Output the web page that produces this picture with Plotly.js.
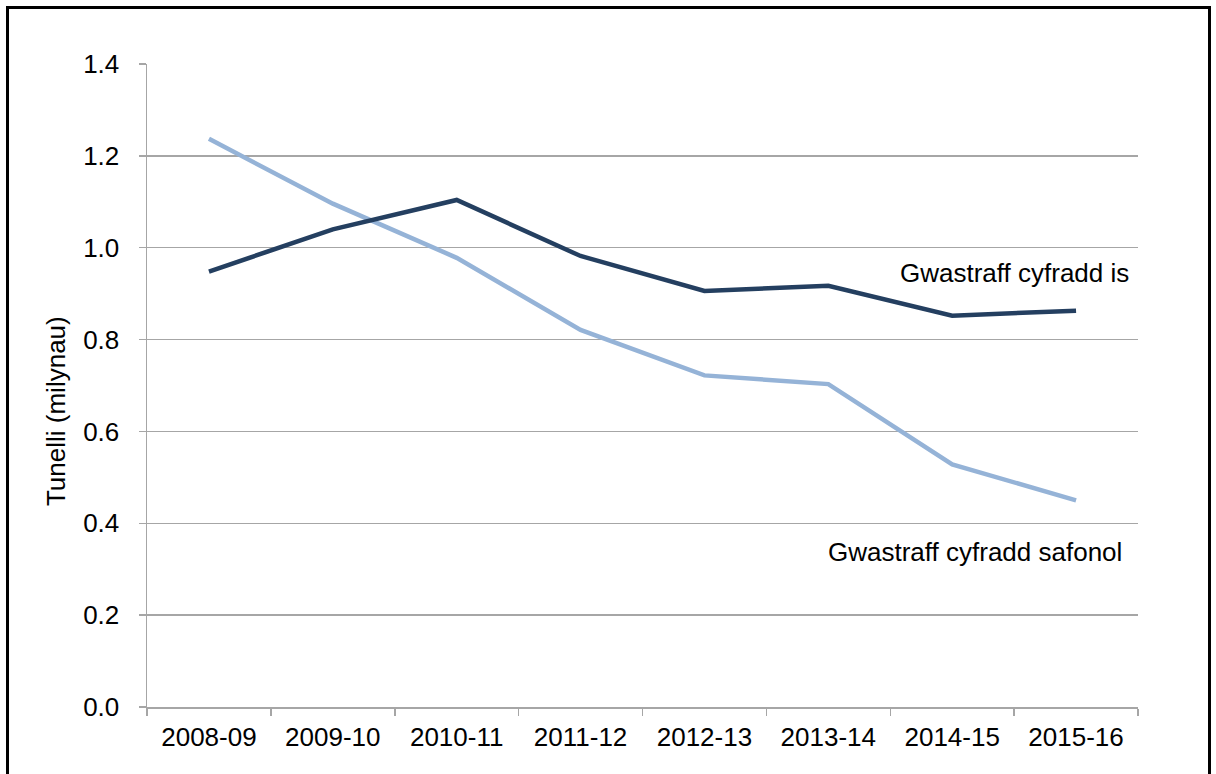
<!DOCTYPE html>
<html>
<head>
<meta charset="utf-8">
<script src="https://cdn.plot.ly/plotly-3.0.1.min.js"></script>
<style>
  html, body { margin: 0; padding: 0; background: #fff; overflow: hidden; }
  #chart { width: 1216px; height: 774px; }
  #frame {
    position: absolute; left: 6px; top: 6px; width: 1199px; height: 820px;
    border: 3px solid #000; pointer-events: none;
  }
</style>
</head>
<body>
<div id="chart"></div>
<div id="frame"></div>
<script>
const years = ['2008-09','2009-10','2010-11','2011-12','2012-13','2013-14','2014-15','2015-16'];
const lowerRate = [0.948, 1.040, 1.104, 0.982, 0.906, 0.917, 0.852, 0.863];
const standardRate = [1.237, 1.096, 0.978, 0.821, 0.722, 0.703, 0.528, 0.450];
const yTicks = [0, 0.2, 0.4, 0.6, 0.8, 1.0, 1.2, 1.4];

const font = 'Liberation Sans, Arial, sans-serif';
const grid = '#a6a6a6';

const traces = [
  {x: years, y: standardRate, type: 'scatter', mode: 'lines', name: 'Gwastraff cyfradd safonol',
   line: {color: '#95b3d7', width: 4.5}},
  {x: years, y: lowerRate, type: 'scatter', mode: 'lines', name: 'Gwastraff cyfradd is',
   line: {color: '#243f60', width: 4.5}}
];

const layout = {
  width: 1216, height: 774,
  margin: {l: 147, r: 78, t: 64, b: 67},
  paper_bgcolor: '#fff', plot_bgcolor: '#fff',
  showlegend: false,
  font: {family: font, size: 26, color: '#000'},
  xaxis: {
    type: 'category', range: [-0.5, 7.5], tickson: 'boundaries',
    showgrid: false, showline: true, linecolor: grid, linewidth: 1.5,
    ticks: 'outside', ticklen: 7, tickcolor: grid, tickwidth: 1.5,
    ticklabelstandoff: 6, fixedrange: true
  },
  yaxis: {
    range: [0, 1.4], tickvals: yTicks, ticktext: yTicks.map(v => v.toFixed(1)),
    showgrid: true, gridcolor: grid, gridwidth: 1.5,
    showline: true, linecolor: grid, linewidth: 1.5, zeroline: false,
    ticks: 'outside', ticklen: 7, tickcolor: grid, tickwidth: 1.5,
    ticklabelstandoff: 14, fixedrange: true
  },
  annotations: [
    {xref: 'paper', yref: 'paper', x: -0.092, y: 0.46, text: 'Tunelli (milynau)', textangle: -90,
     showarrow: false, xanchor: 'center', yanchor: 'middle', font: {size: 26}},
    {xref: 'paper', yref: 'y', x: 0.993, y: 0.945, text: 'Gwastraff cyfradd is',
     showarrow: false, xanchor: 'right', yanchor: 'middle'},
    {xref: 'paper', yref: 'y', x: 0.986, y: 0.337, text: 'Gwastraff cyfradd safonol',
     showarrow: false, xanchor: 'right', yanchor: 'middle'}
  ]
};

Plotly.newPlot('chart', traces, layout, {displayModeBar: false, staticPlot: true});
</script>
</body>
</html>
